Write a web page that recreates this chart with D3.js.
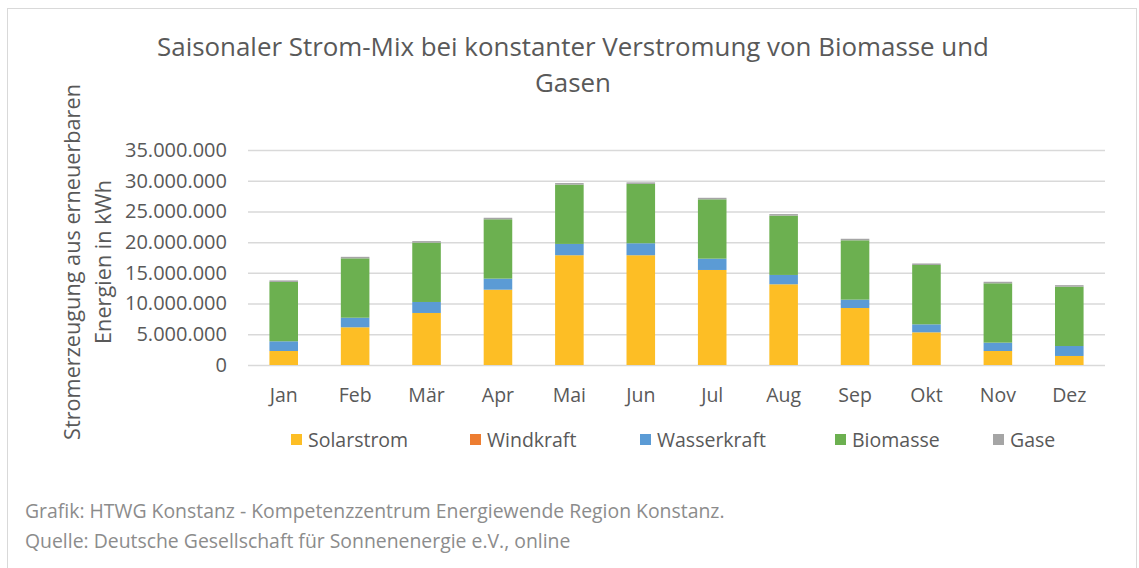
<!DOCTYPE html>
<html>
<head>
<meta charset="utf-8">
<script src="https://cdn.jsdelivr.net/npm/d3@7"></script>
<style>
  body { margin: 0; background: #fff; }
  text { font-family: "Open Sans", sans-serif; }
</style>
</head>
<body>
<svg width="1139" height="568"></svg>
<script>
// Chart data (kWh per month)
var months = ['Jan', 'Feb', 'Mär', 'Apr', 'Mai', 'Jun', 'Jul', 'Aug', 'Sep', 'Okt', 'Nov', 'Dez'];
var seriesNames = ['Solarstrom', 'Windkraft', 'Wasserkraft', 'Biomasse', 'Gase'];
var solarstrom = [2280000, 6140000, 8470000, 12260000, 17870000, 17870000, 15470000, 13140000, 9280000, 5320000, 2280000, 1470000];
var windkraft = [0, 0, 0, 0, 0, 0, 0, 0, 0, 0, 0, 0];
var wasserkraft = [1580000, 1560000, 1790000, 1800000, 1840000, 1950000, 1840000, 1520000, 1360000, 1300000, 1360000, 1620000];
var biomasse = [9660000, 9660000, 9660000, 9660000, 9660000, 9660000, 9660000, 9660000, 9660000, 9660000, 9660000, 9660000];
var gase = [250000, 250000, 250000, 250000, 250000, 250000, 250000, 250000, 250000, 250000, 250000, 250000];
var yTicks = [0, 5000000, 10000000, 15000000, 20000000, 25000000, 30000000, 35000000];

var colors = ['#FDBE25', '#ED7D31', '#5B9BD5', '#6CB050', '#A5A5A5'];

var svg = d3.select('svg');

// outer frame
svg.append('rect')
    .attr('x', 7.5).attr('y', 8.5)
    .attr('width', 1129).attr('height', 580)
    .attr('fill', 'none')
    .attr('stroke', '#d9d9d9');

var padding = {l: 248, r: 34, t: 150, b: 203};
var chartWidth = 1139 - padding.l - padding.r;
var chartHeight = 568 - padding.t - padding.b;

var xScale = d3.scaleBand().domain(months).range([0, chartWidth])
    .paddingInner(0.6).paddingOuter(0.3);
var yScale = d3.scaleLinear().domain([0, 35000000]).range([chartHeight, 0]);

var chartG = svg.append('g')
    .attr('transform', 'translate(' + [padding.l, padding.t] + ')');

// gridlines + y labels
var fmt = function(v) { return d3.format(',')(v).replace(/,/g, '.'); };
var yAxis = d3.axisLeft(yScale).tickValues(yTicks).tickSize(-chartWidth)
    .tickPadding(21).tickFormat(fmt);
var yG = chartG.append('g').call(yAxis);
yG.select('.domain').remove();
yG.selectAll('.tick line').attr('stroke', '#d9d9d9').attr('stroke-width', 1.5);
yG.selectAll('.tick text')
    .attr('fill', '#595959')
    .attr('font-size', 20)
    .attr('font-family', '"Open Sans", sans-serif');

// x labels
var xAxis = d3.axisBottom(xScale).tickSize(0).tickPadding(23);
var xG = chartG.append('g').attr('transform', 'translate(0,' + chartHeight + ')').call(xAxis);
xG.select('.domain').remove();
xG.selectAll('.tick text')
    .attr('fill', '#595959')
    .attr('font-size', 19.5)
    .attr('font-family', '"Open Sans", sans-serif');

// stacked bars
var table = months.map(function(m, i) {
    return {month: m, Solarstrom: solarstrom[i], Windkraft: windkraft[i],
        Wasserkraft: wasserkraft[i], Biomasse: biomasse[i], Gase: gase[i]};
});
var stacked = d3.stack().keys(seriesNames)(table);

var layers = chartG.selectAll('.layer')
    .data(stacked)
    .enter()
    .append('g')
    .attr('class', 'layer')
    .attr('fill', function(d, i) { return colors[i]; });

layers.selectAll('rect')
    .data(function(d) { return d; })
    .enter()
    .append('rect')
    .attr('x', function(d) { return xScale(d.data.month); })
    .attr('width', xScale.bandwidth())
    .attr('y', function(d) { return yScale(d[1]); })
    .attr('height', function(d) { return yScale(d[0]) - yScale(d[1]); });

// title
var title = svg.append('text')
    .attr('text-anchor', 'middle')
    .attr('fill', '#595959')
    .attr('font-size', 25.9);
title.append('tspan').attr('x', 573).attr('y', 56)
    .text('Saisonaler Strom-Mix bei konstanter Verstromung von Biomasse und');
title.append('tspan').attr('x', 573).attr('y', 92).text('Gasen');

// y axis title
var yTitle = svg.append('text')
    .attr('transform', 'translate(80,262) rotate(-90)')
    .attr('text-anchor', 'middle')
    .attr('fill', '#595959')
    .attr('font-size', 21.7);
yTitle.append('tspan').attr('x', 0).attr('y', 0).text('Stromerzeugung aus erneuerbaren');
yTitle.append('tspan').attr('x', 0).attr('y', 31).text('Energien in kWh');

// legend
var legendX = [291, 470, 640, 835, 993];
var legend = svg.append('g');
var items = legend.selectAll('g')
    .data(seriesNames)
    .enter()
    .append('g')
    .attr('transform', function(d, i) { return 'translate(' + [legendX[i], 440] + ')'; });
items.append('rect')
    .attr('x', 0).attr('y', -6)
    .attr('width', 11).attr('height', 11)
    .attr('fill', function(d, i) { return colors[i]; });
items.append('text')
    .attr('x', 17).attr('y', 0).attr('dy', '0.35em')
    .attr('fill', '#595959')
    .attr('font-size', 19.5)
    .text(function(d) { return d; });

// footer
svg.append('text')
    .attr('x', 25).attr('y', 518)
    .attr('fill', '#8c8c8c')
    .attr('font-size', 19.4)
    .text('Grafik: HTWG Konstanz - Kompetenzzentrum Energiewende Region Konstanz.');
svg.append('text')
    .attr('x', 25).attr('y', 548)
    .attr('fill', '#8c8c8c')
    .attr('font-size', 19.4)
    .text('Quelle: Deutsche Gesellschaft für Sonnenenergie e.V., online');
</script>
</body>
</html>
